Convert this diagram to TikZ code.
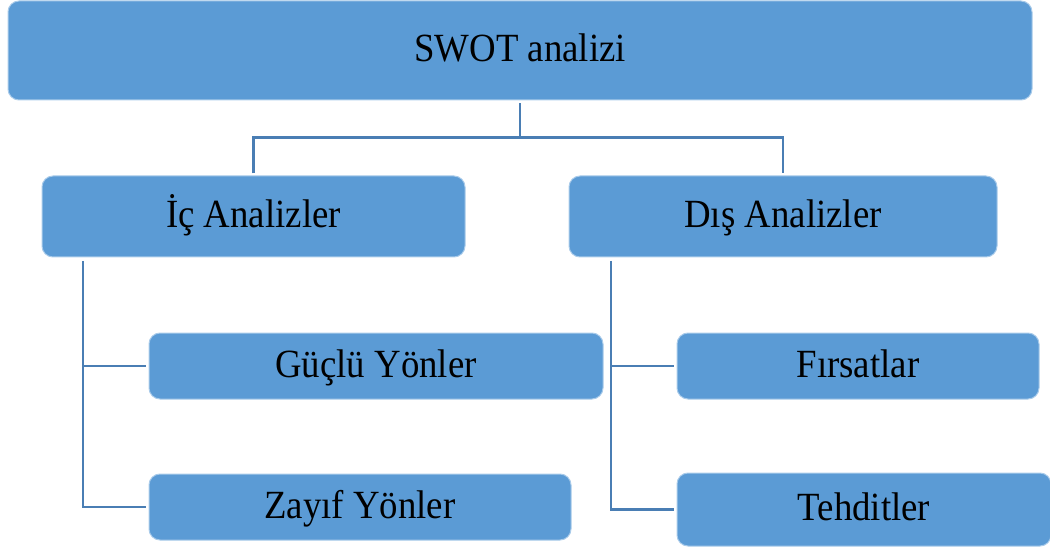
\documentclass[tikz,border=0pt]{standalone}
\usepackage{fontspec}
\setmainfont{Liberation Serif}[FakeStretch=0.92]
\definecolor{boxfill}{HTML}{5B9BD5}
\definecolor{boxline}{HTML}{A9CBEA}
\definecolor{conn}{HTML}{4A7EB4}
\begin{document}
\begin{tikzpicture}[x=1pt,y=-1pt,
  box/.style={rectangle, rounded corners=11pt, fill=boxfill, draw=boxline, line width=1pt,
    inner sep=0pt, text height=22pt, text depth=0pt,
    font=\fontsize{40}{46}\selectfont, text=black},
  conn/.style={draw=conn, line width=2.6pt}]
\useasboundingbox (0,0) rectangle (1050,548);
\node[box, minimum width=1024pt, minimum height=99pt] (top) at (520,50.5) {SWOT analizi};
\node[box, minimum width=423pt, minimum height=81pt] (ic) at (253.5,216.5) {İç Analizler};
\node[box, minimum width=428pt, minimum height=81pt] (dis) at (783,216.5) {Dış Analizler};
\node[box, minimum width=454pt, minimum height=66pt] (guclu) at (376,366) {Güçlü Yönler};
\node[box, minimum width=422pt, minimum height=66pt] (zayif) at (360,507) {Zayıf Yönler};
\node[box, minimum width=362pt, minimum height=66pt] (firsat) at (858,366) {Fırsatlar};
\node[box, minimum width=374pt, minimum height=73pt] (tehdit) at (864,509.5) {Tehditler};
\coordinate (hub) at (520,137.5);
\coordinate (icl) at (83,261);
\coordinate (disl) at (611,261);
\draw[conn, shorten <=3pt] (top.south) -- (hub);
\draw[conn, shorten <=2pt, shorten >=2pt] (ic.north) |- (hub) -| (dis.north);
\draw[conn, shorten >=3pt] (icl) |- (zayif.west);
\draw[conn, shorten >=3pt] (icl |- guclu.west) -- (guclu.west);
\draw[conn, shorten >=3pt] (disl) |- (tehdit.west);
\draw[conn, shorten >=3pt] (disl |- firsat.west) -- (firsat.west);
\end{tikzpicture}
\end{document}
